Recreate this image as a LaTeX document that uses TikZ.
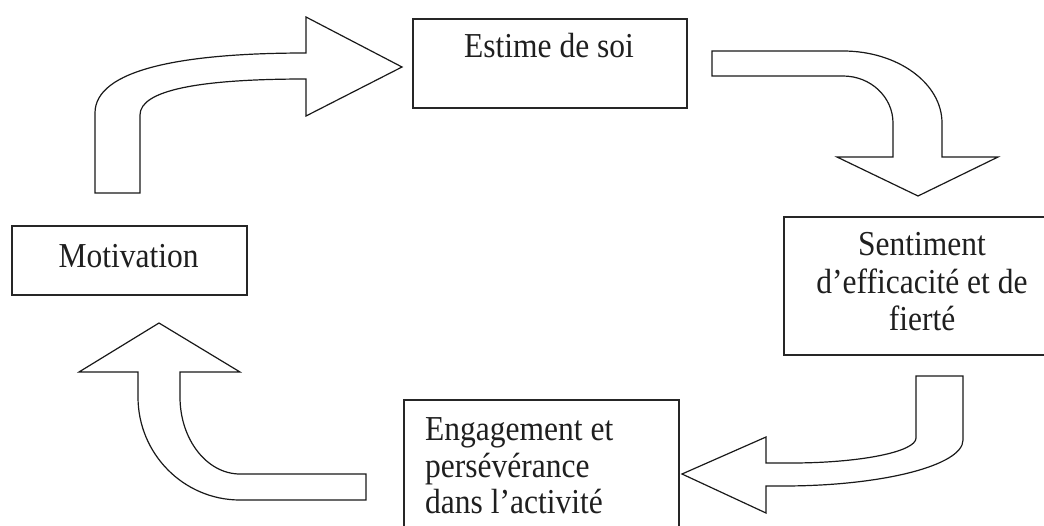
\documentclass[tikz,border=0pt]{standalone}
\usepackage{fontspec}
\setmainfont{Liberation Serif}[FakeStretch=0.9]
\begin{document}
\begin{tikzpicture}[x=1pt,y=-1pt,
  box/.style={draw=black!85, line width=1.5pt, inner sep=0pt, anchor=north west},
  boxtext/.style={font=\fontsize{35}{37}\selectfont, text=black!88, inner sep=0pt},
  blockarrow/.style={draw=black!90, line width=1.2pt, fill=white, line join=miter}]
\useasboundingbox (0,0) rectangle (1044,525);
\clip (0,0) rectangle (1044,525);

% Boxes
\node[box, minimum width=274pt, minimum height=89pt]  (estime)    at (412,18)  {};
\node[box, minimum width=235pt, minimum height=69pt]  (motiv)     at (11,225)  {};
\node[box, minimum width=278pt, minimum height=138pt] (sentiment) at (783,216) {};
\node[box, minimum width=275pt, minimum height=160pt] (engage)    at (403,399) {};

% Box texts
\node[boxtext, anchor=base] (t-estime) at (549,57) {Estime de soi};
\node[boxtext, anchor=base] (t-motiv)  at (128.5,267) {Motivation};
\node[boxtext, anchor=base] (t-sent1) at (922,255) {Sentiment};
\node[boxtext, anchor=base] (t-sent2) at (922,293) {d’efficacité et de};
\node[boxtext, anchor=base] (t-sent3) at (922,330) {fierté};
\node[boxtext, anchor=base west] (t-eng1) at (425,440) {Engagement et};
\node[boxtext, anchor=base west] (t-eng2) at (425,477) {persévérance};
\node[boxtext, anchor=base west] (t-eng3) at (425,513) {dans l’activité};

% Curved block arrows
% Motivation -> Estime de soi
\draw[blockarrow] (95,193) -- (95,113)
  .. controls (95,70) and (180,53) .. (306,53)
  -- (306,17) -- (402,67) -- (306,116) -- (306,79)
  .. controls (200,79) and (140,90) .. (140,115)
  -- (140,193) -- cycle;

% Estime de soi -> Sentiment
\draw[blockarrow] (712,51) -- (843,51)
  .. controls (897.7,51) and (942,83.3) .. (942,123)
  -- (942,157) -- (998,157) -- (918,196) -- (837,157) -- (893,157) -- (893,123)
  .. controls (893,97) and (870.6,76) .. (843,76)
  -- (712,76) -- cycle;

% Sentiment -> Engagement
\draw[blockarrow] (916,376) -- (963,376) -- (963,440)
  .. controls (963,465.4) and (882.4,486) .. (783,486)
  -- (766,486) -- (766,513) -- (682,474) -- (766,437) -- (766,463) -- (791,463)
  .. controls (860,463) and (916,451.8) .. (916,438)
  -- cycle;

% Engagement -> Motivation
\draw[blockarrow] (366,474) -- (366,500) -- (240,500)
  .. controls (183.7,500) and (138,453.9) .. (138,397)
  -- (138,372) -- (79,372) -- (159,323) -- (240,372) -- (180,372) -- (180,397)
  .. controls (180,439.5) and (206.9,474) .. (240,474)
  -- cycle;
\end{tikzpicture}
\end{document}
